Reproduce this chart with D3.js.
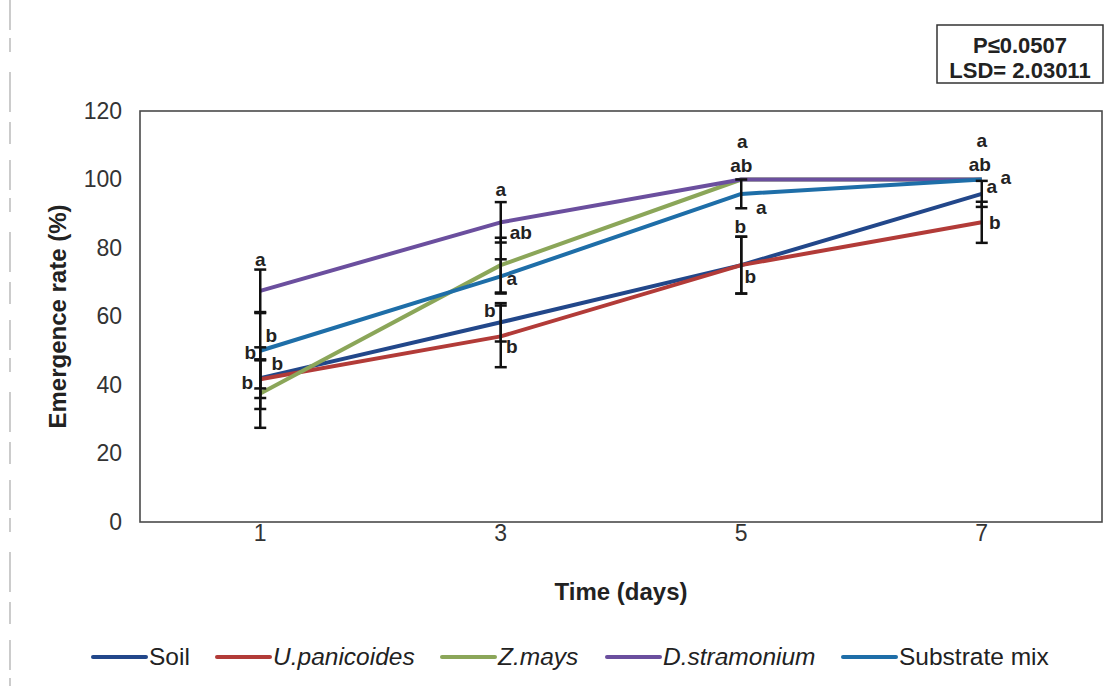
<!DOCTYPE html>
<html>
<head>
<meta charset="utf-8">
<script src="https://cdn.jsdelivr.net/npm/d3@7"></script>
<style>
  body { margin: 0; background: #fff; }
  text { font-family: "Liberation Sans", Arial, sans-serif; }
</style>
</head>
<body>
<script>
const width = 1114,
      height = 686;

// data
const days = ["1", "3", "5", "7"];
const seriesNames = ["Soil", "U.panicoides", "Z.mays", "D.stramonium", "Substrate mix"];
const soil   = [42, 58.3, 75, 95.8];
const upan   = [41.7, 54.2, 75, 87.5];
const zmays  = [37.5, 75, 100, 100];
const dstram = [67.5, 87.5, 100, 100];
const subst  = [50, 71.7, 95.8, 100];
const soilErr   = [9, 5.6, 8.3, 3.8];
const upanErr   = [5.5, 9, 8.3, 6];
const zmaysErr  = [10, 8, 0, 0];
const dstramErr = [6.2, 5.9, 0, 0];
const substErr  = [11, 5, 4.2, 0];
const yTicks = [0, 20, 40, 60, 80, 100, 120];

// significance letters: day, value where it sits, text, sideways shift (px)
const letterDay   = ["1","1","1","1","1", "3","3","3","3","3", "5","5","5","5","5", "7","7","7","7","7"];
const letterValue = [76.8, 54.6, 49.6, 46.4, 40.9, 97, 84.7, 71.2, 61.9, 51.4, 111, 104, 92, 86.4, 71.8, 111.5, 104.5, 98, 100.5, 87.6];
const letterText  = ["a","b","b","b","b", "a","ab","a","b","b", "a","ab","a","b","b", "a","ab","a","a","b"];
const letterShift = [0, 11, -10, 17, -13, 0, 20, 11, -11, 11, 1, 0, 20, -1, 9, 0, -2, 10, 24, 13];

const colors = ["#22478a", "#b23b38", "#8ba659", "#6b4f9e", "#1e6ea8"];
const values = [soil, upan, zmays, dstram, subst];
const errs = [soilErr, upanErr, zmaysErr, dstramErr, substErr];
const italic = [false, true, true, true, false];

const margin = {top: 111, right: 12, bottom: 164, left: 140};

const svg = d3.select("body")
              .append("svg")
              .attr("width", width)
              .attr("height", height);

const x = d3.scaleBand()
            .domain(days)
            .range([margin.left, width - margin.right])
            .padding(0);
const y = d3.scaleLinear()
            .domain([0, 120])
            .range([height - margin.bottom, margin.top]);
const cx = d => x(d) + x.bandwidth() / 2;

// scan artefact on the left edge
svg.append("line")
   .attr("x1", 10).attr("x2", 10)
   .attr("y1", 0).attr("y2", height)
   .attr("stroke", "#aaa")
   .attr("stroke-width", 1.2)
   .attr("stroke-dasharray", "30 8 14 20 40 10 22 16");

// plot frame
svg.append("rect")
   .attr("x", margin.left)
   .attr("y", margin.top)
   .attr("width", width - margin.left - margin.right)
   .attr("height", height - margin.top - margin.bottom)
   .attr("fill", "none")
   .attr("stroke", "#4a4a4a")
   .attr("stroke-width", 1.6);

// axes
const yAxis = svg.append("g")
   .attr("transform", "translate(" + margin.left + ",0)")
   .call(d3.axisLeft(y).tickValues(yTicks).tickSize(0).tickPadding(18));
yAxis.select(".domain").remove();
yAxis.selectAll("text").attr("font-size", 23).attr("fill", "#333");

const xAxis = svg.append("g")
   .attr("transform", "translate(0," + (height - margin.bottom) + ")")
   .call(d3.axisBottom(x).tickSize(0).tickPadding(3));
xAxis.select(".domain").remove();
xAxis.selectAll("text").attr("font-size", 23).attr("fill", "#333");

svg.append("text")
   .attr("transform", "translate(66," + ((margin.top + height - margin.bottom) / 2) + ") rotate(-90)")
   .attr("text-anchor", "middle")
   .attr("font-size", 24)
   .attr("font-weight", "bold")
   .attr("fill", "#222")
   .text("Emergence rate (%)");

svg.append("text")
   .attr("x", 621)
   .attr("y", 600)
   .attr("text-anchor", "middle")
   .attr("font-size", 24)
   .attr("font-weight", "bold")
   .attr("fill", "#222")
   .text("Time (days)");

// lines
const line = d3.line()
               .x((d, i) => cx(days[i]))
               .y(d => y(d));

svg.append("g")
   .selectAll("path")
   .data(values)
   .enter()
   .append("path")
   .attr("d", line)
   .attr("fill", "none")
   .attr("stroke", (d, i) => colors[i])
   .attr("stroke-width", 4)
   .attr("stroke-linejoin", "round");

// error bars
const bars = [];
values.forEach((s, i) => s.forEach((v, j) => {
    if (errs[i][j] > 0) bars.push({day: days[j], lo: v - errs[i][j], hi: v + errs[i][j]});
}));
const eb = svg.append("g")
              .attr("stroke", "#111")
              .attr("stroke-width", 2.5);
bars.forEach(b => {
    eb.append("line")
      .attr("x1", cx(b.day)).attr("x2", cx(b.day))
      .attr("y1", y(b.hi)).attr("y2", y(b.lo));
    [b.lo, b.hi].forEach(v => {
        eb.append("line")
          .attr("x1", cx(b.day) - 6).attr("x2", cx(b.day) + 6)
          .attr("y1", y(v)).attr("y2", y(v));
    });
});

// letters
svg.append("g")
   .selectAll("text")
   .data(letterText)
   .enter()
   .append("text")
   .attr("x", (d, i) => cx(letterDay[i]) + letterShift[i])
   .attr("y", (d, i) => y(letterValue[i]))
   .attr("dy", "0.35em")
   .attr("text-anchor", "middle")
   .attr("font-size", 19)
   .attr("font-weight", "bold")
   .attr("fill", "#222")
   .text(d => d);

// stats box
svg.append("rect")
   .attr("x", 937).attr("y", 25)
   .attr("width", 166).attr("height", 58)
   .attr("fill", "none")
   .attr("stroke", "#333")
   .attr("stroke-width", 1.5);
svg.append("text")
   .attr("x", 1020).attr("y", 53)
   .attr("text-anchor", "middle")
   .attr("font-size", 22).attr("font-weight", "bold").attr("fill", "#222")
   .text("P\u22640.0507");
svg.append("text")
   .attr("x", 1020).attr("y", 78)
   .attr("text-anchor", "middle")
   .attr("font-size", 22).attr("font-weight", "bold").attr("fill", "#222")
   .text("LSD= 2.03011");

// legend
const legendX = [93, 217, 442, 607, 843];
const lg = svg.append("g");
seriesNames.forEach((name, i) => {
    lg.append("line")
      .attr("x1", legendX[i]).attr("x2", legendX[i] + 53)
      .attr("y1", 657).attr("y2", 657)
      .attr("stroke", colors[i])
      .attr("stroke-width", 4)
      .attr("stroke-linecap", "round");
    lg.append("text")
      .attr("x", legendX[i] + 56)
      .attr("y", 665)
      .attr("font-size", 24.5)
      .attr("font-style", italic[i] ? "italic" : "normal")
      .attr("fill", "#222")
      .text(name);
});
</script>
</body>
</html>
